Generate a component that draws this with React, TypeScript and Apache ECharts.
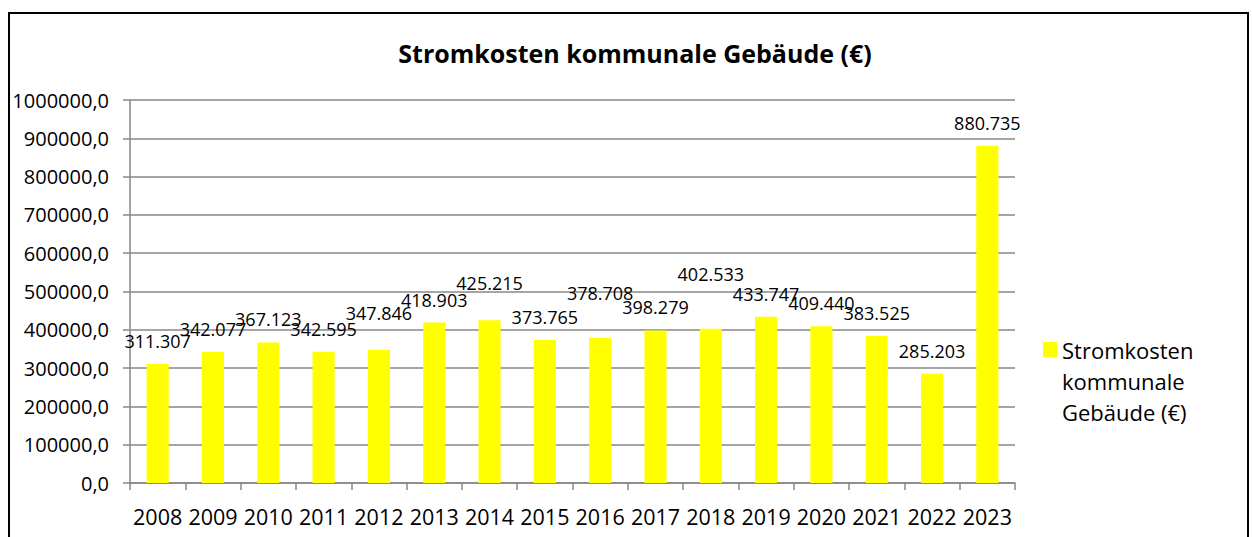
import React, { useEffect, useRef } from "react";
import * as echarts from "echarts";

const title = "Stromkosten kommunale Gebäude (€)";
const seriesName = "Stromkosten kommunale Gebäude (€)";
const legendLines = ["Stromkosten", "kommunale", "Gebäude (€)"];
const years = ["2008", "2009", "2010", "2011", "2012", "2013", "2014", "2015", "2016", "2017", "2018", "2019", "2020", "2021", "2022", "2023"];
const costs = [311307, 342077, 367123, 342595, 347846, 418903, 425215, 373765, 378708, 398279, 402533, 433747, 409440, 383525, 285203, 880735];
// extra vertical lift of some data labels (as placed in the original)
const labelLift = [0, 0, 0, 0, 14, 0, 14, 0, 22, 0, 32, 0, 0, 0, 0, 0];

const FONT = "'Open Sans', sans-serif";
const GRAY = "#878787";

const fmtThousands = (v: number) => String(v).replace(/\B(?=(\d{3})+(?!\d))/g, ".");

export default function App() {
  const ref = useRef<HTMLDivElement>(null);
  useEffect(() => {
    if (!ref.current) return;
    const chart = echarts.init(ref.current, undefined, { renderer: "svg" });
    chart.setOption({
      animation: false,
      backgroundColor: "#ffffff",
      title: {
        text: title,
        left: 630,
        textAlign: "center",
        top: 35,
        textStyle: { fontFamily: FONT, fontSize: 25, fontWeight: "bold", color: "#000" },
      },
      graphic: [
        {
          type: "rect",
          shape: { x: 9, y: 13, width: 1239, height: 600 },
          style: { fill: "none", stroke: "#000", lineWidth: 2 },
          silent: true,
        },
      ],
      legend: {
        left: 1043,
        top: 272,
        padding: 0,
        orient: "vertical",
        itemWidth: 14,
        itemHeight: 15,
        icon: "rect",
        data: [seriesName],
        // two empty lines in front keep the icon level with the first text line
        formatter: () => [" ", " ", ...legendLines].join("\n"),
        textStyle: {
          fontFamily: FONT,
          fontSize: 22,
          color: "#000",
          lineHeight: 31,
        },
      },
      grid: { left: 130, right: 237, top: 100, bottom: 54 },
      xAxis: {
        type: "category",
        data: years,
        axisLine: { show: true, lineStyle: { color: GRAY, width: 1.5 } },
        axisTick: { show: true, length: 7, alignWithLabel: false, lineStyle: { color: GRAY, width: 1.5 } },
        axisLabel: { fontFamily: FONT, fontSize: 21.5, color: "#000", margin: 22, interval: 0 },
      },
      yAxis: {
        type: "value",
        min: 0,
        max: 1000000,
        interval: 100000,
        axisLine: { show: true, lineStyle: { color: GRAY, width: 1.5 } },
        axisTick: { show: true, length: 7, lineStyle: { color: GRAY, width: 1.5 } },
        splitLine: { show: true, lineStyle: { color: GRAY, width: 1.5 } },
        axisLabel: {
          fontFamily: FONT,
          fontSize: 20,
          color: "#000",
          margin: 21,
          formatter: (v: number) => `${v},0`,
        },
      },
      series: [
        {
          name: seriesName,
          type: "bar",
          barCategoryGap: "60%",
          itemStyle: { color: "#FFFF00" },
          data: costs.map((v, i) => ({
            value: v,
            label: { offset: [0, -labelLift[i]] },
          })),
          label: {
            show: true,
            position: "top",
            distance: 14,
            fontFamily: FONT,
            fontSize: 18,
            color: "#000",
            formatter: (p: any) => fmtThousands(p.value),
          },
        },
      ],
    });
    return () => chart.dispose();
  }, []);
  return <div ref={ref} style={{ position: "absolute", left: 0, top: 0, width: 1252, height: 537 }} />;
}
